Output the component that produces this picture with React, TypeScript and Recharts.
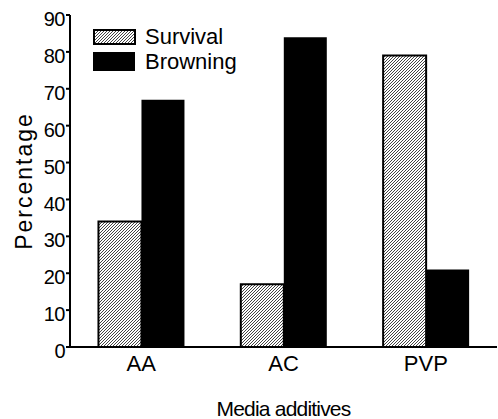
import React from 'react';
import { BarChart, Bar, XAxis, YAxis, Label } from 'recharts';

const categories = ['AA', 'AC', 'PVP'];
const survival = [34, 17, 79];
const browning = [67, 84, 21];
const seriesNames = ['Survival', 'Browning'];
const yTicks = [0, 10, 20, 30, 40, 50, 60, 70, 80, 90];
const edgeTicks = [0, 1, 2, 3];

const data = categories.map((name, i) => ({
  name,
  survival: survival[i],
  browning: browning[i],
}));

const FONT = 'Arial, "Liberation Sans", sans-serif';

// legend drawn on top of the chart so it does not push the plot down
const LegendBox = () => (
  <div style={{ position: 'absolute', left: 93, top: 24, fontFamily: FONT, fontSize: 22, color: '#000', lineHeight: '22px' }}>
    <div style={{ display: 'flex', alignItems: 'center', height: 25 }}>
      <svg width={52} height={20}>
        <rect x={1} y={3} width={41} height={14} fill="url(#hatch)" stroke="#000" strokeWidth={2} />
      </svg>
      <span>{seriesNames[0]}</span>
    </div>
    <div style={{ display: 'flex', alignItems: 'center', height: 25 }}>
      <svg width={52} height={20}>
        <rect x={0} y={0} width={42} height={19} fill="#000" />
      </svg>
      <span>{seriesNames[1]}</span>
    </div>
  </div>
);

const App: React.FC = () => {
  return (
    <div style={{ position: 'absolute', left: 0, top: 0, width: 498, height: 419, background: '#fff' }}>
      <BarChart
        width={498}
        height={419}
        data={data}
        margin={{ top: 15, right: 1, left: 0, bottom: 0 }}
        barCategoryGap="20%"
        barGap={0}
      >
        <defs>
          <pattern id="hatch" patternUnits="userSpaceOnUse" width={3} height={3}>
            <rect width={3} height={3} fill="#fff" />
            <path d="M-1,1 l2,-2 M0,3 l3,-3 M2,4 l2,-2" stroke="#444" strokeWidth={1} />
          </pattern>
        </defs>
        <XAxis
          xAxisId="edgeUp"
          type="number"
          domain={[0, 3]}
          ticks={edgeTicks}
          tick={false}
          axisLine={false}
          mirror
          tickLine={{ stroke: '#000', strokeWidth: 2 }}
          tickSize={6}
          height={0}
        />
        <XAxis
          xAxisId="edgeDown"
          type="number"
          domain={[0, 3]}
          ticks={edgeTicks}
          tick={false}
          axisLine={false}
          tickLine={{ stroke: '#000', strokeWidth: 2 }}
          tickSize={4}
          height={0}
        />
        <XAxis
          dataKey="name"
          height={72}
          axisLine={{ stroke: '#000', strokeWidth: 2 }}
          tickLine={false}
          tickSize={0}
          tickMargin={8}
          tick={{ fill: '#000', fontSize: 22, fontFamily: FONT }}
        >
          <Label
            value="Media additives"
            position="insideBottom"
            offset={3}
            style={{ fill: '#000', fontSize: 21, fontFamily: FONT, letterSpacing: -0.8 }}
          />
        </XAxis>
        <YAxis
          width={70}
          domain={[0, 90]}
          ticks={yTicks}
          interval={0}
          axisLine={{ stroke: '#000', strokeWidth: 2 }}
          tickLine={{ stroke: '#000', strokeWidth: 2 }}
          tickSize={4}
          tickMargin={1}
          tick={{ fill: '#000', fontSize: 20, fontFamily: FONT, dy: 4, letterSpacing: -0.5 }}
        >
          <Label
            value="Percentage"
            angle={-90}
            position="insideLeft"
            offset={24}
            style={{ fill: '#000', fontSize: 23, fontFamily: FONT, textAnchor: 'middle', letterSpacing: 2 }}
          />
        </YAxis>
        <Bar
          dataKey="survival"
          name={seriesNames[0]}
          fill="url(#hatch)"
          stroke="#000"
          strokeWidth={2}
          isAnimationActive={false}
        />
        <Bar dataKey="browning" name={seriesNames[1]} fill="#000" isAnimationActive={false} />
      </BarChart>
      <LegendBox />
    </div>
  );
};

export default App;
